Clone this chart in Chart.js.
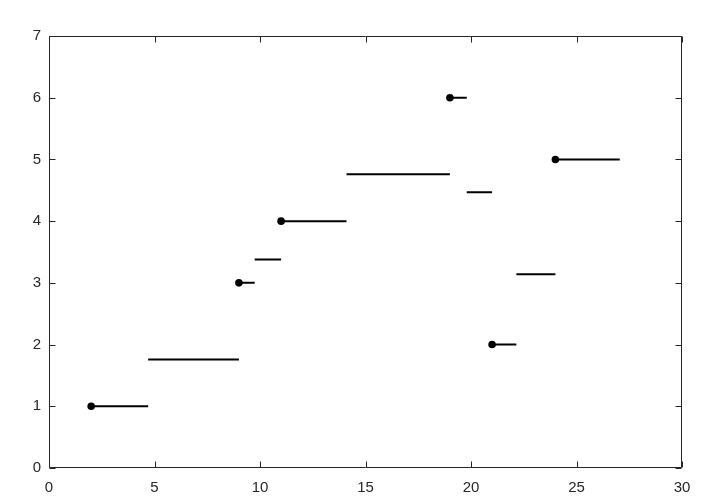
<!DOCTYPE html>
<html>
<head>
<meta charset="utf-8">
<script src="https://cdn.jsdelivr.net/npm/chart.js@4"></script>
<style>
  html, body { margin: 0; padding: 0; background: #ffffff; }
  #wrap { width: 727px; height: 498px; position: relative; }
</style>
</head>
<body>
<div id="wrap"><canvas id="c" width="727" height="498"></canvas></div>
<script>
// ---- data ----
const dotX   = [2, 9, 11, 19, 21, 24];
const dotY   = [1, 3, 4, 6, 2, 5];
const dotEnd = [4.7, 9.75, 14.1, 19.8, 22.15, 27.05];

const gapStart = [4.7, 9.75, 14.1, 19.8, 22.15];
const gapEnd   = [9, 11, 19, 21, 24];
const gapY     = [1.76, 3.38, 4.76, 4.47, 3.14];

const xTicks = [0, 5, 10, 15, 20, 25, 30];
const yTicks = [0, 1, 2, 3, 4, 5, 6, 7];

// ---- build datasets ----
const axisColor = '#262626';
const segPoints = [];
for (let i = 0; i < dotX.length; i++) {
  segPoints.push({x: dotX[i], y: dotY[i]}, {x: dotEnd[i], y: dotY[i]}, {x: null, y: null});
}
for (let i = 0; i < gapY.length; i++) {
  segPoints.push({x: gapStart[i], y: gapY[i]}, {x: gapEnd[i], y: gapY[i]}, {x: null, y: null});
}
const dotPoints = dotX.map((x, i) => ({x: x, y: dotY[i]}));

const boxPlugin = {
  id: 'boxTicks',
  afterDraw(chart) {
    const ctx = chart.ctx;
    const a = chart.chartArea;
    const xs = chart.scales.x, ys = chart.scales.y;
    const L = Math.round(a.left) + 0.5, R = Math.round(a.right) - 0.5;
    const T = Math.round(a.top) + 0.5, B = Math.round(a.bottom) - 0.5;
    const tl = 6;
    ctx.save();
    ctx.strokeStyle = axisColor;
    ctx.lineWidth = 1;
    ctx.beginPath();
    ctx.rect(L, T, R - L, B - T);
    xTicks.forEach(v => {
      const px = Math.round(xs.getPixelForValue(v)) + 0.5;
      ctx.moveTo(px, B); ctx.lineTo(px, B - tl);
      ctx.moveTo(px, T); ctx.lineTo(px, T + tl);
    });
    yTicks.forEach(v => {
      const py = Math.round(ys.getPixelForValue(v)) + 0.5;
      ctx.moveTo(L, py); ctx.lineTo(L + tl, py);
      ctx.moveTo(R, py); ctx.lineTo(R - tl, py);
    });
    ctx.stroke();
    ctx.restore();
  }
};

const bgPlugin = {
  id: 'bg',
  beforeDraw(chart) {
    const ctx = chart.ctx;
    ctx.save();
    ctx.fillStyle = '#ffffff';
    ctx.fillRect(0, 0, chart.width, chart.height);
    ctx.restore();
  }
};

new Chart(document.getElementById('c'), {
  type: 'scatter',
  data: {
    datasets: [
      {
        data: segPoints,
        showLine: true,
        spanGaps: false,
        borderColor: '#000000',
        borderWidth: 2,
        pointRadius: 0,
        pointHoverRadius: 0,
        fill: false
      },
      {
        data: dotPoints,
        showLine: false,
        pointRadius: 3.8,
        pointBackgroundColor: '#000000',
        pointBorderColor: '#000000',
        pointBorderWidth: 0
      }
    ]
  },
  options: {
    responsive: false,
    animation: false,
    devicePixelRatio: 1,
    layout: { padding: { top: 36, right: 45, left: 0, bottom: 0 } },
    plugins: {
      legend: { display: false },
      tooltip: { enabled: false }
    },
    scales: {
      x: {
        type: 'linear',
        min: 0, max: 30,
        afterBuildTicks(scale) { scale.ticks = xTicks.map(v => ({value: v})); },
        afterFit(scale) { scale.height = 30; },
        grid: { display: false, drawTicks: false },
        border: { display: false },
        ticks: {
          color: axisColor,
          padding: 11,
          maxRotation: 0,
          font: { family: 'Liberation Sans, Arial, sans-serif', size: 15 }
        }
      },
      y: {
        type: 'linear',
        min: 0, max: 7,
        afterBuildTicks(scale) { scale.ticks = yTicks.map(v => ({value: v})); },
        afterFit(scale) { scale.width = 49; },
        grid: { display: false, drawTicks: false },
        border: { display: false },
        ticks: {
          color: axisColor,
          padding: 8,
          font: { family: 'Liberation Sans, Arial, sans-serif', size: 15 }
        }
      }
    }
  },
  plugins: [bgPlugin, boxPlugin]
});
</script>
</body>
</html>
